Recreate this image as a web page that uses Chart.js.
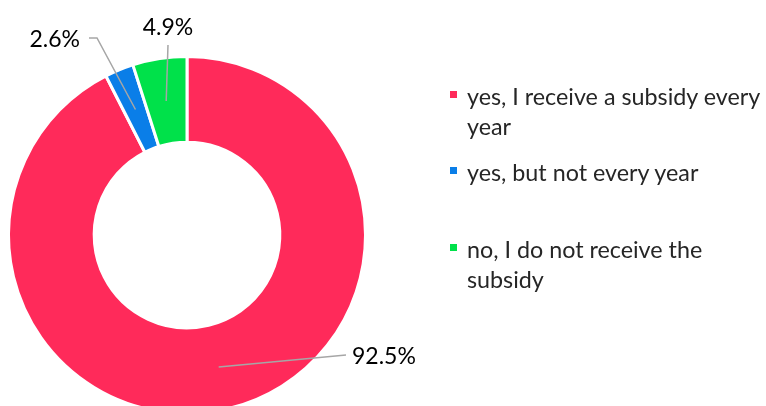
<!DOCTYPE html>
<html>
<head>
<meta charset="utf-8">
<script src="https://cdn.jsdelivr.net/npm/chart.js@4.4.1/dist/chart.umd.min.js"></script>
<style>
  html, body { margin: 0; padding: 0; width: 766px; height: 406px; overflow: hidden; background: #fff; }
  #wrap { position: absolute; left: 0; top: 0; width: 766px; height: 430px; }
  #legend { position: absolute; left: 450px; top: 0; width: 316px; font-family: Lato, "Open Sans", sans-serif;
            font-size: 23.3px; color: #262626; line-height: 30px; }
  .item { position: absolute; left: 0; width: 316px; }
  .sw { position: absolute; left: 0; top: 10px; width: 7px; height: 7px; }
  .txt { position: absolute; left: 17px; top: 0; width: 299px; }
</style>
</head>
<body>
<div id="wrap"><canvas id="c"></canvas></div>
<div id="legend"></div>
<script>
// Survey answers and their shares (%)
const categories = ['yes, I receive a subsidy every year', 'yes, but not every year', 'no, I do not receive the subsidy'];
const shares = [92.5, 2.6, 4.9];
const colors = ['#ff2a5a', '#0a7ee8', '#00e14a'];

// Leader-line routing for each value label, offsets from the doughnut centre
const labelRoutes = [
  { points: [[159, 120]], text: [165, 122], align: 'left' },
  { points: [[-90, -197], [-98, -197]], text: [-107, -195], align: 'right' },
  { points: [[-19, -190]], text: [-19, -207], align: 'center' }
];
// Top of each legend entry
const legendTops = [81, 157, 234];

const leaderLabels = {
  id: 'leaderLabels',
  afterDatasetsDraw(chart) {
    const ctx = chart.ctx;
    const meta = chart.getDatasetMeta(0);
    ctx.save();
    meta.data.forEach((arc, i) => {
      const p = arc.getProps(['x', 'y', 'startAngle', 'endAngle', 'innerRadius', 'outerRadius'], true);
      const mid = (p.startAngle + p.endAngle) / 2;
      const r = (p.innerRadius + p.outerRadius) / 2;
      const ax = p.x + Math.cos(mid) * r;
      const ay = p.y + Math.sin(mid) * r;
      const route = labelRoutes[i];
      ctx.beginPath();
      ctx.moveTo(ax, ay);
      route.points.forEach(([dx, dy]) => ctx.lineTo(p.x + dx, p.y + dy));
      ctx.strokeStyle = '#a6a6a6';
      ctx.lineWidth = 1.5;
      ctx.stroke();
      ctx.fillStyle = '#000000';
      ctx.font = '23px Lato, "Open Sans", sans-serif';
      ctx.textAlign = route.align;
      ctx.textBaseline = 'middle';
      ctx.fillText(chart.data.datasets[0].data[i].toFixed(1) + '%', p.x + route.text[0], p.y + route.text[1]);
    });
    ctx.restore();
  }
};

const chart = new Chart(document.getElementById('c'), {
  type: 'doughnut',
  data: {
    labels: categories,
    datasets: [{
      data: shares,
      backgroundColor: colors,
      borderColor: '#ffffff',
      borderWidth: 3,
      hoverOffset: 0
    }]
  },
  options: {
    responsive: true,
    maintainAspectRatio: false,
    animation: false,
    cutout: '52%',
    layout: { padding: { left: 7, right: 399, top: 55, bottom: 15 } },
    plugins: {
      legend: { display: false },
      tooltip: { enabled: false }
    },
    events: []
  },
  plugins: [leaderLabels]
});

// Legend built from the chart's own labels and colours
const legendEl = document.getElementById('legend');
chart.data.labels.forEach((lab, i) => {
  const item = document.createElement('div');
  item.className = 'item';
  item.style.top = legendTops[i] + 'px';
  const sw = document.createElement('div');
  sw.className = 'sw';
  sw.style.background = chart.data.datasets[0].backgroundColor[i];
  const t = document.createElement('div');
  t.className = 'txt';
  t.textContent = lab;
  item.appendChild(sw);
  item.appendChild(t);
  legendEl.appendChild(item);
});
</script>
</body>
</html>
